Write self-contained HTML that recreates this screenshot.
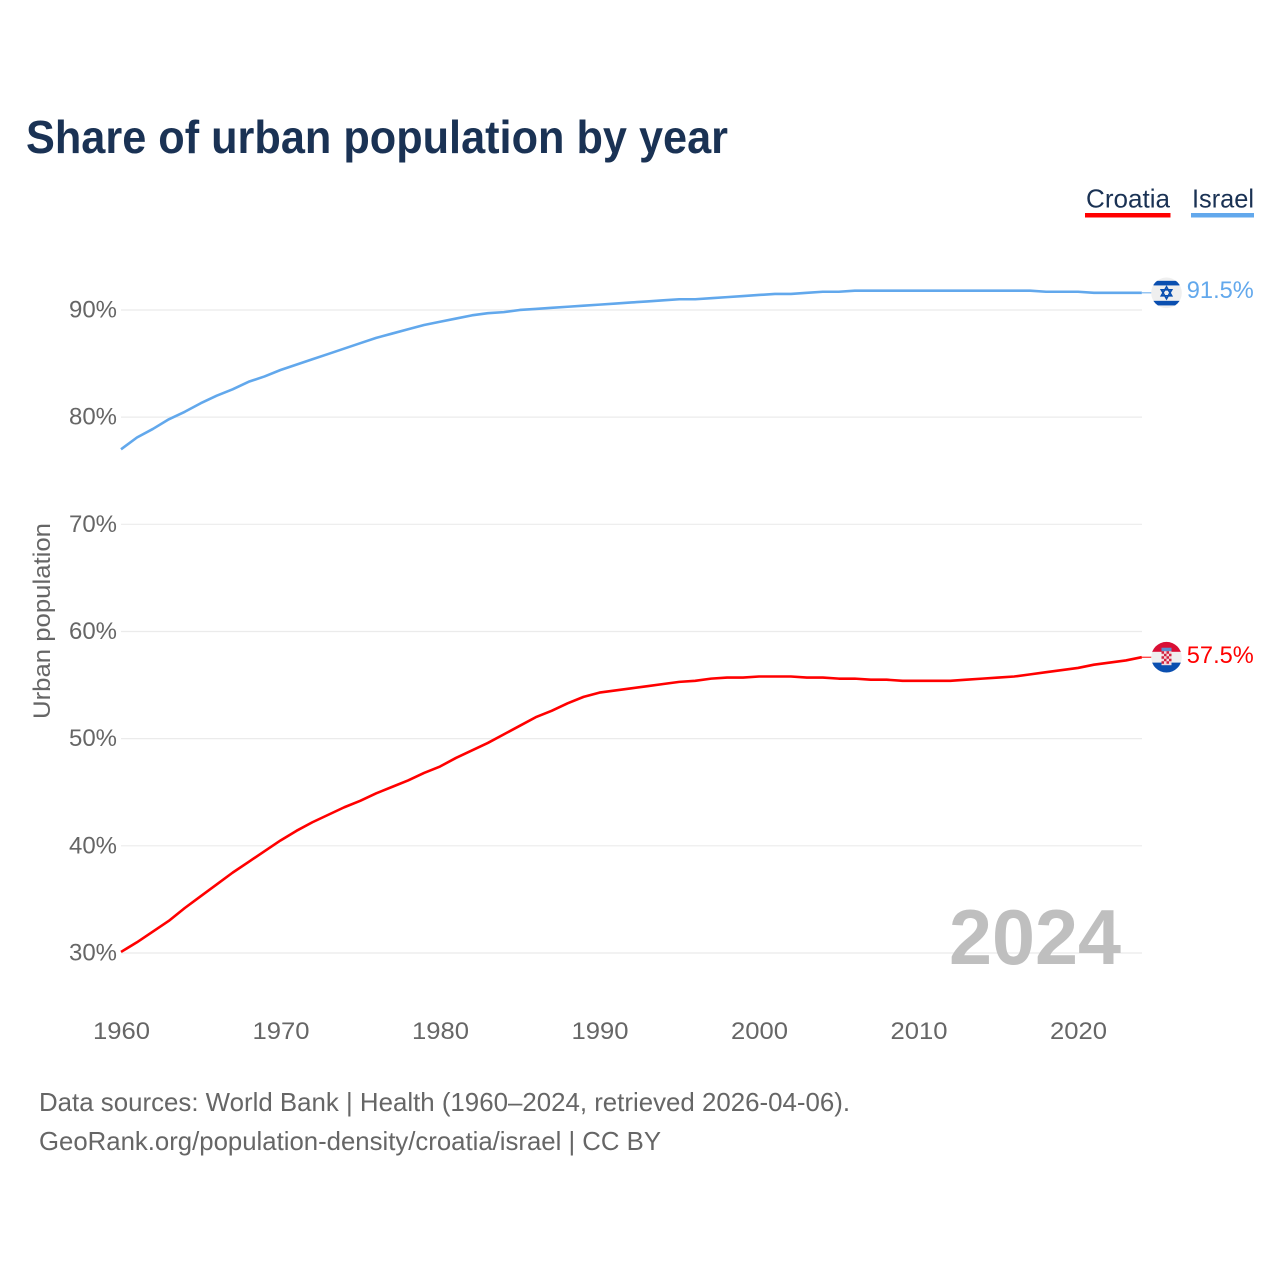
<!DOCTYPE html>
<html lang="en">
<head>
<meta charset="utf-8">
<title>Share of urban population by year</title>
<style>
html,body{margin:0;padding:0;background:#fff;}
svg{display:block;}
text{font-family:"Liberation Sans",sans-serif;}
</style>
</head>
<body>
<svg id="chart" width="1280" height="1280" viewBox="0 0 1280 1280" xmlns="http://www.w3.org/2000/svg">
  <rect width="1280" height="1280" fill="#ffffff"/>
  <text x="26" y="153" font-size="46" font-weight="700" fill="#1a3254" textLength="702" lengthAdjust="spacingAndGlyphs">Share of urban population by year</text>

  <g>
    <g>
      <text x="1086" y="207.5" font-size="26" fill="#1a3254" textLength="84" lengthAdjust="spacingAndGlyphs">Croatia</text>
      <rect x="1085" y="213" width="85.5" height="4.5" fill="#ff0000"/>
    </g>
    <g>
      <text x="1192" y="207.5" font-size="26" fill="#1a3254" textLength="62" lengthAdjust="spacingAndGlyphs">Israel</text>
      <rect x="1191" y="213" width="63" height="4.5" fill="#62a8ec"/>
    </g>
  </g>

  <text transform="translate(50,719) rotate(-90)" font-size="24" fill="#666666" textLength="196" lengthAdjust="spacingAndGlyphs">Urban population</text>

  <g id="grid"></g>
  <g id="yticks"></g>
  <g id="xticks"></g>

  <text x="949" y="964" font-size="78" font-weight="700" fill="#bfbfbf" textLength="172" lengthAdjust="spacingAndGlyphs">2024</text>

  <g id="series"></g>

  <g id="flag-israel">
    <clipPath id="israel-clip"><circle r="15.3"/></clipPath>
    <circle r="15.3" fill="#efefef"/>
    <g clip-path="url(#israel-clip)">
      <rect x="-13" y="-12" width="26" height="4.6" fill="#0a4fb0"/>
      <rect x="-13" y="8" width="26" height="4.6" fill="#0a4fb0"/>
    </g>
    <polygon points="0,-6 5.2,3 -5.2,3" fill="none" stroke="#0a4fb0" stroke-width="1.6"/>
    <polygon points="0,6 5.2,-3 -5.2,-3" fill="none" stroke="#0a4fb0" stroke-width="1.6"/>
  </g>
  <g id="flag-croatia">
    <clipPath id="croatia-clip"><circle r="15.3"/></clipPath>
    <g clip-path="url(#croatia-clip)">
      <rect x="-16" y="-16" width="32" height="11" fill="#d90f35"/>
      <rect x="-16" y="-5.4" width="32" height="11" fill="#efefef"/>
      <rect x="-16" y="5.4" width="32" height="11" fill="#0a4fb0"/>
    </g>
    <rect x="-5" y="-9.5" width="10" height="3.5" fill="#5a8fd0"/>
    <rect x="-5" y="-6" width="10" height="14" fill="#f3d7dc"/>
    <path d="M-5-6h2.5v2.5h-2.5zM0-6h2.5v2.5h-2.5zM-2.5-3.5h2.5v2.5h-2.5zM2.5-3.5h2.5v2.5h-2.5zM-5-1h2.5v2.5h-2.5zM0-1h2.5v2.5h-2.5zM-2.5 1.5h2.5v2.5h-2.5zM2.5 1.5h2.5v2.5h-2.5zM-5 4h2.5v2.5h-2.5zM0 4h2.5v2.5h-2.5z" fill="#d0223f"/>
  </g>
  <g id="endlabels"></g>

  <g>
    <text x="39" y="1111" font-size="26" fill="#666666" textLength="811" lengthAdjust="spacingAndGlyphs">Data sources: World Bank | Health (1960–2024, retrieved 2026-04-06).</text>
    <text x="39" y="1150" font-size="26" fill="#666666" textLength="622" lengthAdjust="spacingAndGlyphs">GeoRank.org/population-density/croatia/israel | CC BY</text>
  </g>
</svg>
<script>
const years = [1960,1961,1962,1963,1964,1965,1966,1967,1968,1969,1970,1971,1972,1973,1974,1975,1976,1977,1978,1979,1980,1981,1982,1983,1984,1985,1986,1987,1988,1989,1990,1991,1992,1993,1994,1995,1996,1997,1998,1999,2000,2001,2002,2003,2004,2005,2006,2007,2008,2009,2010,2011,2012,2013,2014,2015,2016,2017,2018,2019,2020,2021,2022,2023,2024];
const israelValues = [77.0,78.1,78.9,79.8,80.5,81.3,82.0,82.6,83.3,83.8,84.4,84.9,85.4,85.9,86.4,86.9,87.4,87.8,88.2,88.6,88.9,89.2,89.5,89.7,89.8,90.0,90.1,90.2,90.3,90.4,90.5,90.6,90.7,90.8,90.9,91.0,91.0,91.1,91.2,91.3,91.4,91.5,91.5,91.6,91.7,91.7,91.8,91.8,91.8,91.8,91.8,91.8,91.8,91.8,91.8,91.8,91.8,91.8,91.7,91.7,91.7,91.6,91.6,91.6,91.6];
const croatiaValues = [30.1,31.0,32.0,33.0,34.2,35.3,36.4,37.5,38.5,39.5,40.5,41.4,42.2,42.9,43.6,44.2,44.9,45.5,46.1,46.8,47.4,48.2,48.9,49.6,50.4,51.2,52.0,52.6,53.3,53.9,54.3,54.5,54.7,54.9,55.1,55.3,55.4,55.6,55.7,55.7,55.8,55.8,55.8,55.7,55.7,55.6,55.6,55.5,55.5,55.4,55.4,55.4,55.4,55.5,55.6,55.7,55.8,56.0,56.2,56.4,56.6,56.9,57.1,57.3,57.6];
const yTickValues = [30,40,50,60,70,80,90];
const xTickValues = [1960,1970,1980,1990,2000,2010,2020];
const israelEndLabel = "91.5%";
const croatiaEndLabel = "57.5%";

const NS = "http://www.w3.org/2000/svg";
function xScale(year){ return 121 + (year - 1960) * 15.95; }
function yScale(v){ return 953 - (v - 30) * 10.717; }
function make(tag, attrs, parent, content){
  const el = document.createElementNS(NS, tag);
  for (const k in attrs) el.setAttribute(k, attrs[k]);
  if (content !== undefined) el.textContent = content;
  parent.appendChild(el);
  return el;
}
const gridG = document.getElementById("grid");
const yG = document.getElementById("yticks");
const xG = document.getElementById("xticks");
const seriesG = document.getElementById("series");
const endG = document.getElementById("endlabels");

yTickValues.forEach(function(v){
  const line = make("line", {x1:121, x2:1142, y1:yScale(v), y2:yScale(v), stroke:"#ebebeb", "stroke-width":1.2}, gridG);
  
  
  const label = make("text", {x:69, y:yScale(v)+7.5, "font-size":24, fill:"#666666", textLength:48, lengthAdjust:"spacingAndGlyphs"}, yG, v + "%");
  
  
});
xTickValues.forEach(function(t){
  const label = make("text", {x:xScale(t)-28, y:1039, "font-size":24, fill:"#666666", textLength:57, lengthAdjust:"spacingAndGlyphs"}, xG, String(t));
  
  
});
function linePath(values){
  return values.map(function(v,i){ return (i ? "L" : "M") + xScale(years[i]).toFixed(2) + " " + yScale(v).toFixed(2); }).join("");
}
const lineIsrael = make("path", {d:linePath(israelValues), fill:"none", stroke:"#62a8ec", "stroke-width":2.6, "stroke-linejoin":"round"}, seriesG);


const lineCroatia = make("path", {d:linePath(croatiaValues), fill:"none", stroke:"#ff0000", "stroke-width":2.6, "stroke-linejoin":"round"}, seriesG);



const lastX = xScale(years[years.length - 1]);
const israelY = yScale(israelValues[israelValues.length - 1]);
const croatiaY = yScale(croatiaValues[croatiaValues.length - 1]);

const leadI = make("line", {x1:lastX, x2:lastX+11, y1:israelY, y2:israelY, stroke:"#62a8ec", "stroke-width":1}, seriesG);


const leadC = make("line", {x1:lastX, x2:lastX+11, y1:croatiaY, y2:croatiaY, stroke:"#ff0000", "stroke-width":1}, seriesG);



document.getElementById("flag-israel").setAttribute("transform", "translate(" + (lastX+24.7) + "," + israelY + ")");
document.getElementById("flag-croatia").setAttribute("transform", "translate(" + (lastX+24.7) + "," + croatiaY + ")");

const endI = make("text", {x:lastX+45, y:israelY+5, "font-size":24, fill:"#62a8ec", textLength:67, lengthAdjust:"spacingAndGlyphs"}, endG, israelEndLabel);


const endC = make("text", {x:lastX+45, y:croatiaY+5.8, "font-size":24, fill:"#ff0000", textLength:67, lengthAdjust:"spacingAndGlyphs"}, endG, croatiaEndLabel);


</script>
</body>
</html>
